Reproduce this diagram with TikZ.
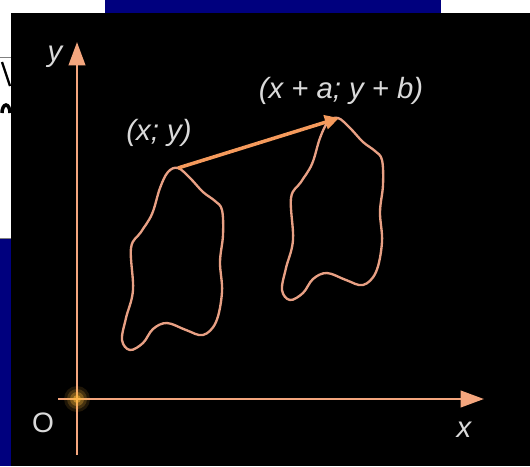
\documentclass[tikz,border=0pt]{standalone}
\usepackage{fontspec}
\setmainfont{Liberation Sans}
\usetikzlibrary{arrows.meta}
\definecolor{TRAxis}{HTML}{F4A67E}
\definecolor{TRVec}{HTML}{F59A5C}
\definecolor{TRShape}{HTML}{E8A084}
\definecolor{TRText}{HTML}{DADADA}
\definecolor{TRNavy}{HTML}{00007E}
\definecolor{TRGlow}{HTML}{FFBA3A}

\begin{document}
\begin{tikzpicture}[x=0.03cm,y=-0.03cm,
  axis/.style={TRAxis,line width=2.5pt,-{Triangle[length=20pt,width=14pt]}},
  vec/.style={TRVec,line width=3pt,-{Triangle[length=12pt,width=12pt]}},
  blob/.style={TRShape,line width=2pt},
  lbl/.style={TRText,font=\fontsize{25}{27}\selectfont\itshape,inner sep=0pt}]
\path[use as bounding box] (0,0) rectangle (530,466);
% slide background
\fill[white] (0,0) rectangle (530,466);
\fill[TRNavy] (105,0) rectangle (441,13);
\fill[TRNavy] (0,239) rectangle (11,466);
\fill[black] (11,13) rectangle (530,466);
\draw[gray,line width=0.8pt] (0,57) -- (11,57);
\draw[gray,line width=0.8pt] (0,238) -- (11,238);
\draw[black,line width=2pt] (2,62) -- (10,86);
\draw[black,line width=3pt] (10,113) arc (0:-180:4 and 8);
% axes
\coordinate (O) at (77,399);
\coordinate (xstart) at (58,399);
\coordinate (xend) at (484,399);
\coordinate (ystart) at (77,455);
\coordinate (yend) at (77,42);
\draw[axis] (xstart) -- (xend);
\draw[axis] (ystart) -- (yend);
\foreach \r/\o in {13/0.12,10/0.18,7/0.3,4/0.5}
  \fill[TRGlow,opacity=\o] (O) circle (\r);
\node[TRText,font=\fontsize{24}{26}\selectfont,inner sep=0pt] (lblO) at (43,423) {O};
\node[lbl] (lblx) at (464,430) {x};
\node[lbl] (lbly) at (55,57) {y};
% the figure and its image
\foreach \dx/\dy in {0/0,160/-50}
  \draw[blob,shift={(\dx,\dy)}] plot[smooth cycle,tension=0.6] coordinates {
    (178,168) (190,178) (203,192) (215,201) (222,210) (223,235) (220,262)
    (222,292) (216,322) (203,335) (186,330) (167,323) (153,329) (143,343)
    (130,350) (122,340) (126,318) (133,290) (131,248) (141,232) (152,214)
    (160,188) (168,172)};
\coordinate (P) at (178,168);
\coordinate (Q) at (339,118);
\draw[vec] (P) -- (Q);
\node[lbl] (lblP) at (159,133) {(x; y)};
\node[lbl] (lblQ) at (341,91) {(x + a; y + b)};
\end{tikzpicture}
\end{document}
